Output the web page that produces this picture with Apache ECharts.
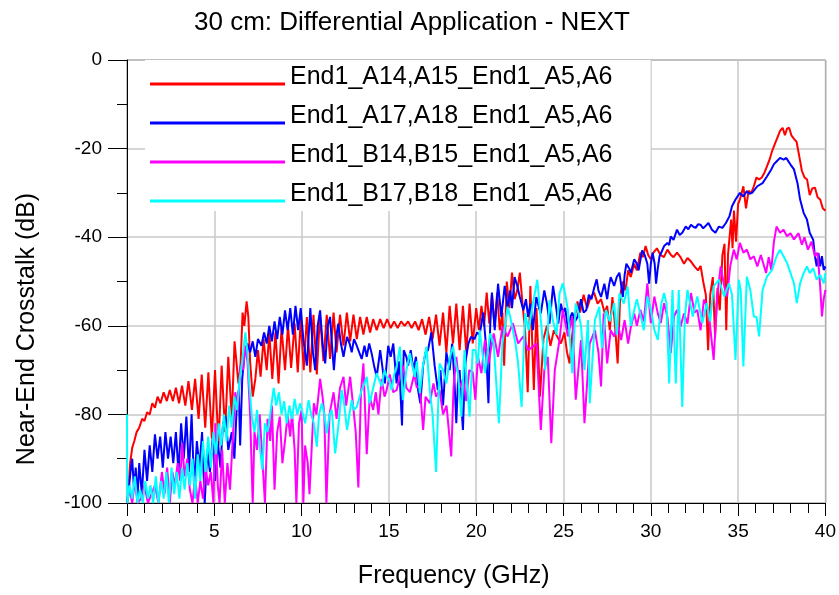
<!DOCTYPE html>
<html>
<head>
<meta charset="utf-8">
<script src="https://cdn.jsdelivr.net/npm/echarts@6/dist/echarts.min.js"></script>
<style>
html,body{margin:0;padding:0;background:#fff;}
#main{width:839px;height:595px;}
</style>
</head>
<body>
<div id="main"></div>
<script>
const titleText = '30 cm: Differential Application - NEXT';
const xName = 'Frequency (GHz)';
const yName = 'Near-End Crosstalk (dB)';
const seriesNames = ['End1_A14,A15_End1_A5,A6','End1_A17,A18_End1_A5,A6','End1_B14,B15_End1_A5,A6','End1_B17,B18_End1_A5,A6'];
const seriesColors = ['#ff0000','#0000ff','#ff00ff','#00ffff'];

// [frequency GHz, dB]
const redData = [
[0,-100],[0.08,-97],[0.18,-91],[0.3,-87.5],[0.42,-86],[0.55,-84],[0.7,-83],[0.87,-81],[1.0,-81.5],[1.15,-79.5],[1.3,-80],[1.45,-77.5],[1.6,-78.5],[1.75,-76],[1.92,-77.5],[2.1,-75],[2.28,-77],[2.45,-74.5],[2.63,-77],[2.8,-74],[2.98,-77.5],[3.15,-73.5],[3.34,-78],[3.52,-72.5],[3.72,-79],[3.9,-72],[4.1,-81],[4.28,-71],[4.48,-83],[4.66,-70.5],[4.86,-85.5],[5.04,-70],[5.24,-87],[5.42,-69],[5.62,-84],[5.8,-67],[6.0,-81],[6.16,-63.5],[6.38,-73],[6.5,-69],[6.62,-57],[6.72,-60],[6.85,-54.5],[6.95,-58],[7.05,-68],[7.2,-76],[7.35,-72],[7.5,-65.5],[7.65,-71.5],[7.82,-63],[8.0,-70],[8.15,-61.5],[8.32,-72],[8.5,-61.5],[8.68,-73],[8.85,-60.5],[9.05,-70],[9.22,-60],[9.4,-69.5],[9.6,-59.5],[9.78,-70.5],[9.95,-58.5],[10.12,-70],[10.3,-58],[10.5,-70.5],[10.68,-57.5],[10.87,-71],[11.05,-57.5],[11.25,-68],[11.44,-57.5],[11.63,-67.5],[11.83,-57],[12.0,-66],[12.2,-57.5],[12.4,-64.5],[12.59,-57],[12.78,-63.5],[12.97,-57.5],[13.16,-63],[13.35,-58],[13.54,-62],[13.73,-58],[13.92,-61.5],[14.1,-58.5],[14.3,-61],[14.5,-58.5],[14.7,-60.5],[14.9,-58.5],[15.1,-60.5],[15.3,-59],[15.5,-60.5],[15.7,-59],[15.9,-60],[16.1,-59],[16.3,-60.5],[16.5,-59],[16.7,-61],[16.9,-58.5],[17.1,-62],[17.3,-58],[17.5,-63],[17.7,-57.5],[17.9,-64.5],[18.1,-57],[18.29,-66],[18.48,-55.5],[18.67,-64],[18.86,-55],[19.05,-65.5],[19.24,-55.5],[19.43,-66],[19.62,-55],[19.8,-64],[20.0,-56],[20.15,-61],[20.3,-55.5],[20.45,-60],[20.6,-52.5],[20.75,-59.5],[20.9,-53],[21.05,-60],[21.2,-52.5],[21.35,-61],[21.5,-57],[21.6,-69],[21.75,-50],[21.9,-56],[22.05,-48],[22.2,-54],[22.35,-52],[22.5,-48],[22.65,-55],[22.8,-61],[22.95,-75],[23.1,-51],[23.3,-74.5],[23.45,-56],[23.65,-76],[23.85,-63],[24.05,-60],[24.25,-64.5],[24.45,-61],[24.65,-62.5],[24.85,-64],[25.05,-61.5],[25.2,-66],[25.35,-68.5],[25.5,-62],[25.65,-58],[25.8,-54.5],[25.95,-57],[26.15,-53],[26.35,-56],[26.55,-53.5],[26.75,-52.5],[26.95,-55],[27.15,-54],[27.35,-57],[27.5,-55.5],[27.65,-61],[27.8,-53.5],[27.95,-60],[28.1,-68.5],[28.25,-53],[28.4,-50],[28.55,-52],[28.7,-47.5],[28.85,-49],[29.05,-46],[29.2,-47.5],[29.4,-43.5],[29.55,-44.5],[29.7,-42],[29.85,-44],[30.0,-45],[30.15,-43.5],[30.35,-42.5],[30.55,-44],[30.75,-44.5],[30.95,-42.8],[31.15,-44],[31.3,-44.5],[31.5,-43.5],[31.7,-44.5],[31.9,-46],[32.1,-44.7],[32.3,-45.5],[32.5,-46.6],[32.7,-47.5],[32.85,-46.5],[33.0,-50],[33.15,-53],[33.28,-65.5],[33.4,-53],[33.55,-49],[33.68,-62.5],[33.82,-51.5],[33.95,-56.5],[34.1,-44],[34.22,-41.5],[34.32,-61],[34.42,-44],[34.52,-39.5],[34.6,-36],[34.68,-42.5],[34.76,-34],[34.88,-41],[35.0,-32.5],[35.1,-31.5],[35.2,-30],[35.3,-28.5],[35.45,-33.5],[35.6,-29.5],[35.75,-30],[35.9,-28.5],[36.05,-26.5],[36.2,-27],[36.35,-26.5],[36.5,-25.5],[36.65,-24],[36.8,-22.5],[36.95,-20.5],[37.1,-19],[37.25,-17.5],[37.4,-16],[37.55,-15.3],[37.68,-17],[37.8,-15.5],[37.92,-15.3],[38.05,-17],[38.2,-17.8],[38.35,-18.5],[38.5,-21.7],[38.65,-25],[38.8,-26.5],[38.95,-27],[39.1,-30.5],[39.25,-29],[39.4,-28.8],[39.55,-31],[39.7,-31.5],[39.85,-33.5],[40,-34]
];

const blueData = [
[0,-100],[0.1,-97],[0.2,-93],[0.3,-90],[0.4,-97],[0.5,-92],[0.6,-99],[0.7,-91],[0.85,-98],[1.0,-88],[1.15,-95],[1.3,-87],[1.45,-93],[1.6,-84.5],[1.75,-90],[1.9,-85],[2.05,-92],[2.2,-84],[2.35,-90],[2.5,-85],[2.65,-91],[2.8,-84],[2.95,-93],[3.1,-82],[3.25,-90],[3.4,-80.5],[3.55,-93],[3.7,-80],[3.85,-97],[4.0,-86],[4.15,-92],[4.3,-84],[4.45,-100],[4.6,-88],[4.75,-93],[4.9,-85.5],[5.05,-95],[5.2,-86],[5.35,-92],[5.5,-82],[5.65,-80.5],[5.8,-88],[6.0,-84],[6.15,-90],[6.3,-77],[6.4,-74.5],[6.48,-87],[6.6,-72],[6.75,-65.5],[6.9,-64],[7.05,-66],[7.2,-63.5],[7.35,-67],[7.5,-63],[7.7,-64.5],[7.85,-61.5],[8.0,-64],[8.15,-60],[8.3,-63.5],[8.45,-59],[8.6,-63],[8.75,-58],[8.9,-62],[9.05,-56.5],[9.2,-61],[9.35,-56],[9.5,-62],[9.65,-55.5],[9.8,-61],[9.95,-56],[10.1,-63],[10.3,-69],[10.5,-56],[10.65,-66],[10.78,-70],[10.92,-60],[11.06,-56.5],[11.2,-64],[11.35,-68.5],[11.5,-60],[11.63,-58],[11.75,-65],[11.85,-70],[12.0,-62],[12.1,-59.5],[12.25,-64],[12.4,-67],[12.6,-62.5],[12.75,-64],[12.87,-66],[13.0,-63],[13.16,-64.5],[13.3,-66],[13.44,-67.5],[13.6,-64.5],[13.73,-67],[13.87,-64],[14.0,-66],[14.15,-69],[14.3,-71.5],[14.5,-65.5],[14.65,-70],[14.77,-73],[14.96,-64.5],[15.1,-67],[15.25,-64],[15.44,-73],[15.58,-68],[15.75,-82.5],[15.85,-65.5],[16.0,-67],[16.1,-69],[16.25,-65.5],[16.4,-70],[16.55,-67],[16.67,-74.5],[16.8,-77.5],[16.96,-69],[17.1,-66],[17.24,-65.5],[17.43,-61.5],[17.62,-69],[17.8,-74.5],[17.95,-70],[18.1,-78],[18.29,-66],[18.48,-70],[18.62,-64],[18.75,-72],[18.86,-82],[18.95,-73],[19.05,-70],[19.15,-78],[19.24,-83.5],[19.35,-70],[19.43,-67],[19.55,-64],[19.7,-62.5],[19.9,-63],[20.05,-61.5],[20.2,-62],[20.4,-57],[20.55,-64],[20.7,-77.5],[20.8,-60],[20.9,-52.5],[21.06,-61],[21.25,-50.5],[21.44,-58],[21.63,-51],[21.8,-56],[21.95,-52],[22.05,-56],[22.2,-49],[22.35,-51],[22.5,-53.5],[22.7,-56.5],[22.85,-54],[22.97,-58],[23.1,-55],[23.25,-61],[23.44,-53.5],[23.6,-56],[23.7,-57.2],[23.9,-52],[24.05,-55],[24.2,-59.5],[24.4,-51],[24.55,-55],[24.7,-59.5],[24.85,-55],[24.96,-57],[25.1,-56],[25.25,-61],[25.4,-58],[25.5,-57],[25.65,-59],[25.8,-58],[26.0,-54],[26.15,-57],[26.3,-56.5],[26.45,-53],[26.6,-54],[26.75,-51.5],[26.9,-49.5],[27.0,-52],[27.15,-53.5],[27.34,-50.5],[27.5,-54],[27.6,-51],[27.7,-49],[27.9,-51],[28.05,-49],[28.2,-48],[28.4,-53.5],[28.5,-48.5],[28.6,-46],[28.75,-47],[28.86,-48],[29.05,-45],[29.2,-46],[29.3,-47.5],[29.5,-43],[29.65,-44],[29.8,-46],[29.9,-50.5],[30.0,-46],[30.1,-43.5],[30.22,-46],[30.3,-50.5],[30.4,-47],[30.5,-44.3],[30.65,-43],[30.76,-42],[30.95,-41.3],[31.05,-41.8],[31.14,-39.8],[31.3,-40.6],[31.5,-38.3],[31.65,-39.5],[31.8,-39],[32.0,-37.6],[32.15,-38.2],[32.3,-37.2],[32.45,-37.7],[32.57,-37.9],[32.7,-37.1],[32.85,-37.2],[33.0,-38],[33.1,-37.9],[33.3,-36.8],[33.5,-38.3],[33.6,-38.7],[33.7,-39],[33.9,-37.6],[34.1,-37.9],[34.3,-36.8],[34.5,-35.3],[34.65,-33],[34.85,-31.5],[35.1,-30],[35.3,-30.8],[35.5,-29.6],[35.65,-30.2],[35.8,-30],[36.1,-28.5],[36.4,-27.8],[36.65,-26.3],[36.9,-24.7],[37.05,-23.5],[37.2,-22.9],[37.4,-22.1],[37.6,-22.5],[37.76,-22.1],[37.9,-23],[38.0,-23.6],[38.2,-24.7],[38.4,-27.8],[38.55,-31.5],[38.75,-34.5],[38.94,-36],[39.1,-39],[39.3,-40.6],[39.4,-44.3],[39.5,-46.6],[39.6,-43.6],[39.7,-46.6],[39.8,-44.3],[39.9,-47.4],[40,-46.6]
];

const magentaData = [
[0,-100],[0.15,-97],[0.3,-100],[0.45,-95],[0.6,-100],[0.8,-99],[1.0,-96],[1.2,-100],[1.4,-98],[1.6,-96],[1.8,-100],[2.0,-93],[2.15,-98],[2.3,-92],[2.45,-100],[2.6,-93],[2.75,-96],[2.9,-91],[3.05,-95],[3.16,-86.5],[3.3,-94],[3.45,-90],[3.6,-97],[3.75,-100],[3.9,-94],[4.05,-100],[4.2,-95],[4.35,-99],[4.5,-92],[4.65,-96],[4.8,-93],[4.95,-100],[5.06,-82],[5.2,-96],[5.3,-100],[5.45,-88],[5.6,-100],[5.75,-91],[5.9,-97],[6.05,-86],[6.2,-75],[6.35,-79],[6.5,-69],[6.65,-70],[6.77,-64.5],[6.9,-68],[7.05,-80],[7.2,-100],[7.3,-84],[7.45,-88],[7.6,-80],[7.75,-90],[7.9,-100],[8.05,-81],[8.2,-86],[8.3,-78],[8.45,-97],[8.6,-84],[8.75,-80.5],[8.9,-91],[9.05,-86],[9.2,-80],[9.35,-85],[9.45,-79.5],[9.6,-88],[9.7,-100],[9.85,-82],[10.0,-79],[10.1,-100],[10.2,-87],[10.35,-91],[10.45,-98],[10.7,-77.5],[10.85,-80],[11.06,-72],[11.2,-76],[11.3,-80],[11.42,-100],[11.6,-80],[11.83,-75],[12.0,-81],[12.2,-74],[12.4,-71.5],[12.55,-78],[12.78,-71.5],[12.95,-78],[13.1,-84],[13.25,-96.5],[13.4,-75],[13.54,-68.5],[13.73,-89],[13.9,-76],[14.1,-79],[14.25,-75],[14.4,-80],[14.58,-72],[14.75,-76],[14.87,-74.5],[15.05,-71],[15.25,-75],[15.44,-74.5],[15.6,-72],[15.8,-69],[16.0,-74],[16.2,-75],[16.45,-71],[16.6,-74],[16.77,-73.5],[16.96,-83.5],[17.1,-76],[17.34,-77.5],[17.55,-73],[17.7,-76],[17.9,-74.5],[18.1,-80],[18.3,-78],[18.57,-89.5],[18.7,-74],[18.86,-67],[19.05,-74],[19.25,-72],[19.43,-77],[19.6,-70],[19.8,-70.5],[19.95,-76.7],[20.1,-67],[20.3,-70.7],[20.5,-63.2],[20.7,-68.5],[21.0,-61.7],[21.25,-67],[21.5,-60.2],[21.8,-62.4],[22.1,-59.4],[22.4,-64],[22.7,-62.4],[22.97,-65.5],[23.25,-64.7],[23.45,-64],[23.7,-83.5],[23.9,-70],[24.1,-67],[24.3,-86.5],[24.5,-70],[24.77,-63.2],[24.96,-56.4],[25.25,-62.4],[25.5,-57.9],[25.7,-76.7],[26.0,-63.2],[26.2,-82],[26.5,-64],[26.8,-61],[27.0,-66],[27.15,-73.7],[27.3,-57.2],[27.5,-68.5],[27.7,-61],[27.9,-62.4],[28.1,-59.5],[28.3,-63.2],[28.5,-58.7],[28.7,-64],[28.86,-60.2],[29.05,-57.2],[29.2,-60],[29.4,-56.4],[29.6,-59],[29.8,-50.4],[30.0,-59.4],[30.2,-53.4],[30.4,-57.2],[30.57,-59.4],[30.76,-54.9],[30.95,-58],[31.14,-66.2],[31.33,-57.9],[31.5,-56.4],[31.7,-60.2],[31.9,-57.2],[32.1,-59.5],[32.3,-52.6],[32.5,-57],[32.66,-56.4],[32.85,-61],[33.04,-54.1],[33.3,-56.5],[33.6,-67.7],[33.8,-53.4],[34.0,-46.6],[34.2,-51],[34.37,-53.4],[34.55,-46.5],[34.75,-42.8],[34.92,-45],[35.1,-41.3],[35.3,-43.5],[35.5,-42.8],[35.7,-45],[35.9,-44.3],[36.1,-46.6],[36.3,-44],[36.6,-48.1],[36.75,-44.5],[36.9,-47.4],[37.05,-41],[37.2,-37.6],[37.4,-39],[37.6,-38.3],[37.8,-39.8],[38.0,-39.1],[38.2,-40.5],[38.46,-39.1],[38.65,-41.7],[38.8,-40],[39.0,-42.8],[39.2,-41],[39.4,-44.3],[39.55,-43.5],[39.7,-51.1],[39.8,-57.9],[39.9,-54],[40,-51.9]
];

const cyanData = [
[0,-80],[0.02,-100],[0.15,-96],[0.3,-99],[0.45,-94],[0.6,-100],[0.75,-97],[0.9,-100],[1.05,-95],[1.2,-99],[1.35,-96],[1.5,-100],[1.65,-94],[1.8,-100],[1.95,-95],[2.1,-99],[2.25,-93],[2.4,-100],[2.55,-92],[2.7,-98],[2.85,-93],[3.0,-99],[3.15,-92],[3.3,-97],[3.45,-91],[3.6,-96],[3.75,-90],[3.9,-99],[4.05,-89],[4.2,-95],[4.35,-86],[4.5,-93],[4.65,-85],[4.8,-92],[4.95,-84],[5.1,-89],[5.25,-82],[5.4,-87],[5.55,-80],[5.7,-86],[5.85,-78],[6.0,-83],[6.15,-76],[6.3,-79],[6.45,-72],[6.6,-68],[6.78,-61.5],[6.9,-66],[7.0,-73],[7.15,-80.5],[7.3,-84],[7.45,-79],[7.6,-87],[7.75,-92.5],[7.9,-82],[8.05,-84],[8.2,-80],[8.4,-74],[8.55,-78],[8.7,-75],[8.85,-80],[9.0,-77],[9.15,-82],[9.3,-78],[9.45,-81],[9.6,-76.5],[9.75,-80],[9.92,-77.5],[10.2,-82],[10.4,-76.8],[10.55,-80],[10.7,-82],[10.87,-87.3],[11.0,-80],[11.16,-77.5],[11.3,-80],[11.44,-84.3],[11.6,-80],[11.73,-79],[11.92,-88.8],[12.1,-82.8],[12.3,-74.5],[12.45,-78],[12.6,-83.5],[12.87,-76.8],[13.0,-79],[13.16,-78.3],[13.44,-74.5],[13.6,-73],[13.73,-71.5],[13.9,-77.5],[14.1,-74],[14.3,-70.7],[14.58,-73.7],[14.75,-70],[14.87,-71.5],[15.0,-72],[15.15,-74.5],[15.3,-71],[15.44,-69.2],[15.63,-64.7],[15.8,-76.8],[16.0,-70],[16.2,-66.2],[16.48,-71.5],[16.6,-68],[16.77,-75.2],[16.95,-69],[17.15,-64.7],[17.34,-74.5],[17.5,-80],[17.7,-93],[17.9,-68.5],[18.1,-70],[18.29,-73],[18.5,-67],[18.67,-64.7],[18.8,-68],[18.95,-70.7],[19.15,-80.5],[19.33,-65.4],[19.45,-72],[19.62,-80.5],[19.8,-65.4],[19.95,-65.5],[20.1,-68.5],[20.2,-61],[20.35,-66],[20.5,-70.7],[20.8,-61.7],[21.0,-64],[21.3,-82],[21.5,-64],[21.65,-60],[21.8,-55.7],[21.95,-58],[22.1,-61],[22.25,-64],[22.4,-68.5],[22.6,-78.3],[22.8,-57.2],[23.0,-61],[23.25,-54.9],[23.5,-49.6],[23.7,-58.7],[23.95,-70],[24.2,-54.2],[24.4,-59],[24.6,-62],[24.77,-52.7],[24.96,-50.4],[25.1,-53],[25.25,-56.4],[25.5,-70.7],[25.7,-54.9],[25.85,-57],[26.0,-60],[26.2,-70],[26.4,-58.7],[26.5,-77.5],[26.8,-58.7],[27.05,-55.7],[27.2,-65],[27.43,-56.4],[27.65,-59],[27.9,-54.9],[28.05,-62],[28.2,-52.7],[28.45,-55],[28.67,-51.1],[28.85,-60],[29.05,-56.4],[29.2,-54],[29.43,-57.9],[29.6,-61],[29.8,-53.4],[30.0,-56.4],[30.2,-60.9],[30.4,-63.2],[30.6,-55],[30.76,-52.6],[30.9,-55],[31.05,-73],[31.24,-51.9],[31.43,-73],[31.6,-51.9],[31.8,-78.3],[31.95,-58],[32.1,-51.9],[32.4,-57.9],[32.66,-53.4],[32.95,-59.4],[33.2,-54.9],[33.4,-59],[33.6,-51.1],[33.9,-49.6],[34.2,-53.4],[34.47,-50.4],[34.65,-53],[34.85,-67.7],[35.04,-49.6],[35.15,-52],[35.3,-69.2],[35.5,-48.9],[35.7,-52],[35.9,-57.9],[36.05,-58],[36.2,-62.4],[36.4,-51.9],[36.65,-48.9],[36.94,-47.4],[37.2,-44.3],[37.4,-42.8],[37.6,-44.3],[37.8,-45.8],[38.0,-48.1],[38.2,-50.4],[38.36,-54.9],[38.55,-50.4],[38.75,-48.1],[38.94,-46.6],[39.1,-48.1],[39.3,-47],[39.5,-49.6],[39.7,-48.5],[39.9,-50.4],[40,-48.1]
];

const allData = [redData, blueData, magentaData, cyanData];
const FONT = '"Liberation Sans", Arial, sans-serif';

const chart = echarts.init(document.getElementById('main'), null, {renderer: 'canvas'});
const option = {
  animation: false,
  backgroundColor: '#ffffff',
  textStyle: {fontFamily: FONT, color: '#000'},
  title: {
    text: titleText, left: 407, top: 5, textAlign: 'center',
    textStyle: {fontFamily: FONT, fontSize: 26, fontWeight: 'normal', color: '#000'}
  },
  grid: {left: 127, right: 13, top: 60, bottom: 92, show: true, borderColor: '#555', borderWidth: 1, backgroundColor: 'transparent'},
  legend: {
    orient: 'vertical', left: 145, top: 60, padding: [5, 38, 4, 5],
    backgroundColor: '#ffffff', itemWidth: 135, itemHeight: 16, itemGap: 14,
    icon: 'path://M0,0 L0.01,0 L0,0.01 Z M0,13 L135,13 L135,16 L0,16 Z',
    itemStyle: {borderWidth: 0},
    textStyle: {fontFamily: FONT, fontSize: 25, color: '#000'},
    data: seriesNames
  },
  xAxis: {
    type: 'value', min: 0, max: 40, interval: 5,
    name: xName, nameLocation: 'middle', nameGap: 61,
    nameTextStyle: {fontFamily: FONT, fontSize: 25, color: '#000', padding: [0, 45, 0, 0]},
    axisLine: {onZero: false, lineStyle: {color: '#000', width: 1}},
    axisTick: {show: true, length: 13, lineStyle: {color: '#000', width: 1}},
    minorTick: {show: true, splitNumber: 5, length: 10, lineStyle: {color: '#000', width: 1}},
    splitLine: {show: true, lineStyle: {color: '#c8c8c8', width: 1.5}},
    axisLabel: {fontFamily: FONT, fontSize: 19, color: '#000', margin: 19}
  },
  yAxis: {
    type: 'value', min: -100, max: 0, interval: 20,
    name: yName, nameLocation: 'middle', nameGap: 87,
    nameTextStyle: {fontFamily: FONT, fontSize: 25, color: '#000', padding: [0, 95, 0, 0]},
    axisLine: {onZero: false, lineStyle: {color: '#000', width: 1}},
    axisTick: {show: true, length: 19, lineStyle: {color: '#000', width: 1}},
    minorTick: {show: true, splitNumber: 2, length: 10, lineStyle: {color: '#000', width: 1}},
    splitLine: {show: true, lineStyle: {color: '#c8c8c8', width: 1.5}},
    axisLabel: {fontFamily: FONT, fontSize: 19, color: '#000', margin: 25}
  },
  series: seriesNames.map((n, i) => ({
    name: n, type: 'line', data: allData[i], showSymbol: false, symbol: 'none',
    color: seriesColors[i], lineStyle: {color: seriesColors[i], width: 2},
    clip: true, silent: true
  }))
};
chart.setOption(option);
</script>
</body>
</html>
